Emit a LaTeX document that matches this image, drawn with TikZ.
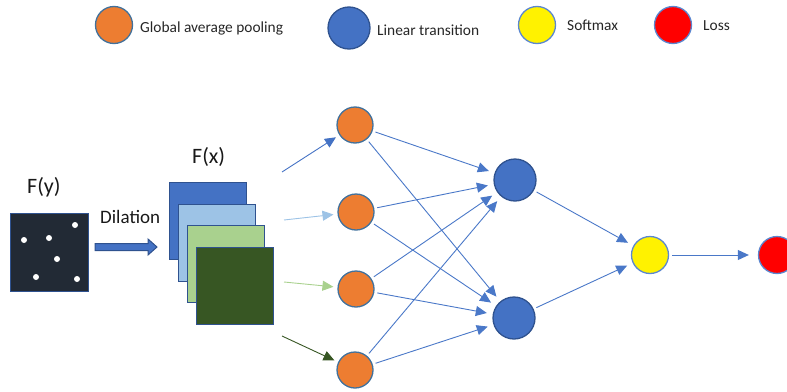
\documentclass[tikz,border=0pt]{standalone}
\usepackage{fontspec}
\setmainfont{Carlito}
\usetikzlibrary{arrows.meta}
\definecolor{cblue}{HTML}{4472C4}
\definecolor{cdkblue}{HTML}{2F528F}
\definecolor{corange}{HTML}{ED7D31}
\definecolor{cobord}{HTML}{41719C}
\definecolor{clblue}{HTML}{9DC3E6}
\definecolor{clgreen}{HTML}{A9D18E}
\definecolor{cdgreen}{HTML}{375623}
\definecolor{cnavy}{HTML}{222A35}
\definecolor{cline}{HTML}{4A78C8}
\definecolor{cybord}{HTML}{5B87D0}
\tikzset{
  pool/.style={circle,draw=cobord,line width=1.3pt,fill=corange,minimum size=36pt,inner sep=0pt},
  lin/.style={circle,draw=cdkblue,line width=1.3pt,fill=cblue,minimum size=42pt,inner sep=0pt},
  soft/.style={circle,draw=cybord,line width=1.3pt,fill=yellow,minimum size=37pt,inner sep=0pt},
  lossc/.style={circle,draw=cybord,line width=1.3pt,fill=red,minimum size=37pt,inner sep=0pt},
  leg/.style={anchor=base west,inner sep=0pt,font=\fontsize{15.4}{18}\selectfont,text=black!85},
  big/.style={anchor=base west,inner sep=0pt,font=\fontsize{22}{26}\selectfont,text=black!90},
  fmap/.style={draw=cdkblue,line width=1.2pt,minimum size=77pt,inner sep=0pt,anchor=north west},
  conn/.style={draw=cline,line width=0.9pt,-{Triangle[length=11pt,width=10pt]},shorten <=3pt,shorten >=6pt},
  dot/.style={circle,fill=white,minimum size=6pt,inner sep=0pt}
}
\begin{document}
\begin{tikzpicture}[x=1pt,y=-1pt]
\useasboundingbox (0,0) rectangle (787,391);
\clip (0,0) rectangle (787,391);
% legend
\node[pool,minimum width=37pt,minimum height=36pt] (lg1) at (114,25) {};
\node[leg] (lt1) at (140,32) {Global average pooling};
\node[lin] (lg2) at (349,28) {};
\node[leg] (lt2) at (377,35) {Linear transition};
\node[soft,minimum size=37pt] (lg3) at (537,25) {};
\node[leg] (lt3) at (567,30) {Softmax};
\node[lossc,minimum size=37pt] (lg4) at (673,25) {};
\node[leg] (lt4) at (703,30) {Loss};
% F(y)
\node[big] (fy) at (27,193) {F(y)};
\node[draw=cdkblue,line width=1.2pt,fill=cnavy,minimum size=78pt,inner sep=0pt,anchor=north west] (sq) at (10,213) {};
\node[dot] (d1) at (75,225) {};
\node[dot] (d2) at (24,240) {};
\node[dot] (d3) at (49,238) {};
\node[dot] (d4) at (57,259) {};
\node[dot] (d5) at (36,277) {};
\node[dot] (d6) at (77,279) {};
% dilation
\node[anchor=base west,inner sep=0pt,font=\fontsize{19}{22}\selectfont,text=black!90] (dil) at (100,223) {Dilation};
\draw[fill=cblue,draw=cdkblue,line width=1pt] (95,243.5) -- (148,243.5) -- (148,239) -- (157,247) -- (148,255) -- (148,250.5) -- (95,250.5) -- cycle;
% F(x)
\node[big] (fx) at (192,163) {F(x)};
\node[fmap,fill=cblue] (m1) at (169,182) {};
\node[fmap,fill=clblue] (m2) at (178,204) {};
\node[fmap,fill=clgreen] (m3) at (187,225) {};
\node[fmap,fill=cdgreen] (m4) at (196,247) {};
% pooling nodes
\node[pool] (o1) at (355,125) {};
\node[pool] (o2) at (356,212) {};
\node[pool] (o3) at (356,289) {};
\node[pool] (o4) at (355,370) {};
% linear nodes
\node[lin] (b1) at (515,180) {};
\node[lin] (b2) at (514,318) {};
% softmax and loss
\node[soft] (y) at (650,255) {};
\node[lossc] (l) at (777,255) {};
% inputs
\coordinate (s1) at (282,172);
\coordinate (s2) at (284,220);
\coordinate (s3) at (284,282);
\coordinate (s4) at (282,336);
\draw[line width=0.9pt,draw=cblue,-{Triangle[length=11pt,width=10pt]},shorten >=4pt] (s1) -- (o1);
\draw[line width=0.9pt,draw=clblue,-{Triangle[length=11pt,width=10pt]},shorten >=4pt] (s2) -- (o2);
\draw[line width=0.9pt,draw=clgreen,-{Triangle[length=11pt,width=10pt]},shorten >=4pt] (s3) -- (o3);
\draw[line width=0.9pt,draw=cdgreen,-{Triangle[length=11pt,width=10pt]},shorten >=4pt] (s4) -- (o4);
% connections
\foreach \o in {o1,o2,o3,o4}{
  \draw[conn] (\o) -- (b1);
  \draw[conn] (\o) -- (b2);
}
\draw[conn] (b1) -- (y);
\draw[conn] (b2) -- (y);
\draw[conn,shorten >=9pt] (y) -- (l);
\end{tikzpicture}
\end{document}
